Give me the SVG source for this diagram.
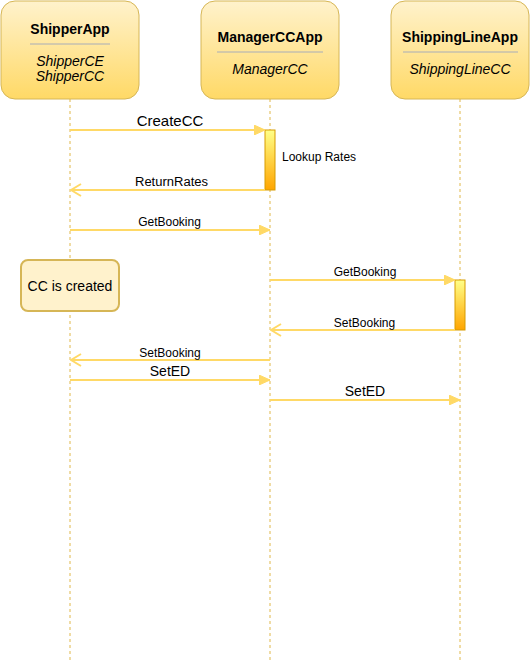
<svg xmlns="http://www.w3.org/2000/svg" width="531" height="663" viewBox="0 0 531 663">
<style>
.box{stroke:#d6b656;stroke-width:1;fill:url(#gBox)}
.life{stroke:#e0b84a;stroke-width:1;stroke-dasharray:3 3;fill:none}
.sep{stroke:#a8adb8;stroke-width:1}
.act{fill:url(#gAct);stroke:#d79b00;stroke-width:1}
.msg{stroke:#ffd966;stroke-width:2;fill:none}
.t{font-family:"Liberation Sans",Arial,sans-serif;fill:#000}
.title{font-size:14px;font-weight:bold;text-anchor:middle}
.it{font-size:14px;font-style:italic;text-anchor:middle}
.l12{font-size:12px;text-anchor:middle}
.l14{font-size:14px;text-anchor:middle}
</style>
<defs>
<linearGradient id="gBox" x1="0" y1="0" x2="0" y2="1">
<stop offset="0" stop-color="#fff2cc"/>
<stop offset="1" stop-color="#ffd966"/>
</linearGradient>
<linearGradient id="gAct" x1="0" y1="0" x2="0" y2="1">
<stop offset="0" stop-color="#ffff88"/>
<stop offset="1" stop-color="#ffa500"/>
</linearGradient>
<marker id="block" markerWidth="12" markerHeight="10" refX="11" refY="5" orient="auto" markerUnits="userSpaceOnUse">
<path d="M0,0 L11,5 L0,10 Z" fill="#ffd966" stroke="#ffd966" stroke-width="1"/>
</marker>
<marker id="open" markerWidth="12" markerHeight="14" refX="11" refY="7" orient="auto" markerUnits="userSpaceOnUse">
<path d="M1,1 L11,7 L1,13" fill="none" stroke="#ffd966" stroke-width="2"/>
</marker>
</defs>

<g id="lifelines">
<line class="life" x1="70" y1="99" x2="70" y2="660"/>
<line class="life" x1="270" y1="99" x2="270" y2="660"/>
<line class="life" x1="460" y1="99" x2="460" y2="660"/>
</g>

<g id="ShipperApp">
<rect class="box" x="1" y="1" width="138" height="98" rx="14" ry="14"/>
<text class="t title" x="70" y="34">ShipperApp</text>
<line class="sep" x1="30" y1="44" x2="110" y2="44"/>
<text class="t it" x="70" y="66">ShipperCE</text>
<text class="t it" x="70" y="81">ShipperCC</text>
</g>

<g id="ManagerCCApp">
<rect class="box" x="201" y="1" width="138" height="98" rx="14" ry="14"/>
<text class="t title" x="270" y="42">ManagerCCApp</text>
<line class="sep" x1="217" y1="52" x2="323" y2="52"/>
<text class="t it" x="270" y="74">ManagerCC</text>
</g>

<g id="ShippingLineApp">
<rect class="box" x="391" y="1" width="138" height="98" rx="14" ry="14"/>
<text class="t title" x="460" y="42">ShippingLineApp</text>
<line class="sep" x1="403" y1="52" x2="518" y2="52"/>
<text class="t it" x="460" y="74">ShippingLineCC</text>
</g>

<g id="activation1">
<rect class="act" x="265" y="130" width="10" height="60"/>
</g>
<g id="activation2">
<rect class="act" x="455" y="280" width="10" height="50"/>
</g>

<g id="note">
<rect x="21" y="260" width="98" height="51" rx="7" ry="7" fill="#fff2cc" stroke="#d6b656" stroke-width="2"/>
<text class="t l14" x="70" y="291">CC is created</text>
</g>

<g id="connectors">
<line class="msg" x1="70" y1="130" x2="265" y2="130" marker-end="url(#block)"/>
<line class="msg" x1="265" y1="190" x2="71" y2="190" marker-end="url(#open)"/>
<line class="msg" x1="70" y1="230" x2="270" y2="230" marker-end="url(#block)"/>
<line class="msg" x1="270" y1="280" x2="455" y2="280" marker-end="url(#block)"/>
<line class="msg" x1="455" y1="330" x2="271" y2="330" marker-end="url(#open)"/>
<line class="msg" x1="270" y1="360" x2="71" y2="360" marker-end="url(#open)"/>
<line class="msg" x1="70" y1="380" x2="270" y2="380" marker-end="url(#block)"/>
<line class="msg" x1="270" y1="400" x2="460" y2="400" marker-end="url(#block)"/>
</g>

<g id="labels">
<text class="t" x="170" y="126" font-size="15" text-anchor="middle">CreateCC</text>
<text class="t" x="282" y="161" font-size="12">Lookup Rates</text>
<text class="t l12" x="171.5" y="186" textLength="73" lengthAdjust="spacingAndGlyphs">ReturnRates</text>
<text class="t l12" x="169.5" y="226">GetBooking</text>
<text class="t l12" x="365" y="276">GetBooking</text>
<text class="t l12" x="364.5" y="327">SetBooking</text>
<text class="t l12" x="170" y="357">SetBooking</text>
<text class="t l14" x="170" y="376">SetED</text>
<text class="t l14" x="365" y="396">SetED</text>
</g>
</svg>
